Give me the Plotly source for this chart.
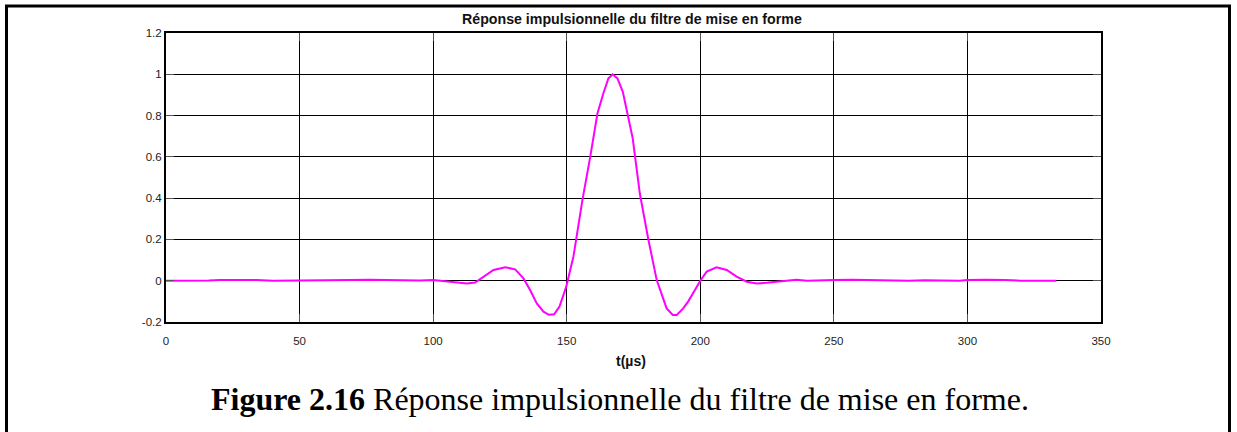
import plotly.graph_objects as go

# ---- data ----
t_us = [0, 10, 16, 20, 27, 34, 40, 45, 50, 55, 63, 69, 76, 83, 90, 95, 100, 105, 109,
        112.6, 115.7, 118.9, 122.6, 127, 130.7, 133.8, 136.3, 138.8, 141.3, 143.3,
        145.3, 147.3, 149.8, 152.5, 156, 158.8, 161.5, 163.7, 165.6, 167.2, 169,
        171, 172.7, 174.7, 177.4, 180.6, 183.7, 187.4, 189.7, 191.2, 193.6, 195.5,
        198, 200, 202.4, 206.1, 209.9, 213.6, 217.4, 221.1, 224.8, 229.8, 233, 236,
        240, 245, 250, 257, 264, 270, 278, 284, 290, 297, 300, 307, 314, 320, 333.3]
h_val = [0, 0, 0.001, 0.004, 0.005, 0.003, 0, 0, 0.002, 0, 0, 0.003, 0.005, 0.003, 0,
         0.001, 0.004, -0.004, -0.011, -0.014, -0.009, 0.02, 0.052, 0.065, 0.055,
         0.011, -0.045, -0.11, -0.15, -0.165, -0.163, -0.125, -0.03, 0.116, 0.40,
         0.60, 0.81, 0.907, 0.98, 1.0, 0.98, 0.915, 0.81, 0.69, 0.42, 0.197, 0.003,
         -0.134, -0.166, -0.166, -0.134, -0.1, -0.045, 0, 0.044, 0.065, 0.052, 0.02,
         -0.005, -0.013, -0.01, -0.002, 0.002, 0.005, 0, 0, 0.003, 0.005, 0.003, 0,
         0, 0.002, 0, 0, 0.003, 0.005, 0.003, 0, 0]

x_ticks = [0, 50, 100, 150, 200, 250, 300, 350]
x_ticklabels = ["0", "50", "100", "150", "200", "250", "300", "350"]
y_ticks = [-0.2, 0, 0.2, 0.4, 0.6, 0.8, 1, 1.2]
y_ticklabels = ["-0.2", "0", "0.2", "0.4", "0.6", "0.8", "1", "1.2"]

title_text = "Réponse impulsionnelle du filtre de mise en forme"
xlabel_text = "t(µs)"
caption_bold = "Figure 2.16"
caption_rest = " Réponse impulsionnelle du filtre de mise en forme."

# ---- layout geometry (pixels) ----
W, H = 1237, 432
ML, MR, MT, MB = 166, 136, 33, 110
PW = W - ML - MR
PH = H - MT - MB


def px_x(px):
    return (px - ML) / PW


def px_y(py):
    return (H - MB - py) / PH


fig = go.Figure()
fig.add_trace(go.Scatter(
    x=t_us, y=h_val, mode="lines",
    line=dict(color="#FF00FF", width=2),
    showlegend=False, hoverinfo="skip",
))

axis_common = dict(
    showgrid=True, gridcolor="#000000", gridwidth=1,
    showline=True, linecolor="#000000", linewidth=2, mirror="ticks",
    ticks="inside", ticklen=8, tickcolor="#555555", tickwidth=1,
    zeroline=False,
    tickfont=dict(family="Liberation Sans, Arial", size=11.5, color="#222222"),
)

fig.update_xaxes(range=[0, 350], tickvals=x_ticks, ticktext=x_ticklabels,
                 ticklabelstandoff=7, **axis_common)
fig.update_yaxes(range=[-0.2, 1.2], tickvals=y_ticks, ticktext=y_ticklabels, **axis_common)

annotations = [
    dict(text="<b>" + title_text + "</b>", xref="paper", yref="paper",
         x=px_x(632), y=px_y(19), xanchor="center", yanchor="middle",
         showarrow=False, font=dict(family="Liberation Sans, Arial", size=14.2, color="#111111")),
    dict(text="<b>" + xlabel_text + "</b>", xref="paper", yref="paper",
         x=px_x(631), y=px_y(361), xanchor="center", yanchor="middle",
         showarrow=False, font=dict(family="Liberation Sans, Arial", size=14, color="#111111")),
    dict(text="<b>" + caption_bold + "</b>" + caption_rest, xref="paper", yref="paper",
         x=px_x(620), y=px_y(399), xanchor="center", yanchor="middle",
         showarrow=False, font=dict(family="Liberation Serif, Times New Roman", size=32, color="#000000")),
]

shapes = [
    dict(type="rect", xref="paper", yref="paper",
         x0=px_x(6.5), x1=px_x(1229.5), y0=px_y(445), y1=px_y(6),
         line=dict(color="#000000", width=3), fillcolor="rgba(0,0,0,0)", layer="above"),
]

fig.update_layout(
    width=W, height=H,
    margin=dict(l=ML, r=MR, t=MT, b=MB, pad=0),
    paper_bgcolor="#FFFFFF", plot_bgcolor="#FFFFFF",
    annotations=annotations, shapes=shapes,
)

fig.write_html(
    "out.html",
    config={"displayModeBar": False},
    post_script="document.body.style.margin='0';document.body.style.overflow='hidden';",
)
